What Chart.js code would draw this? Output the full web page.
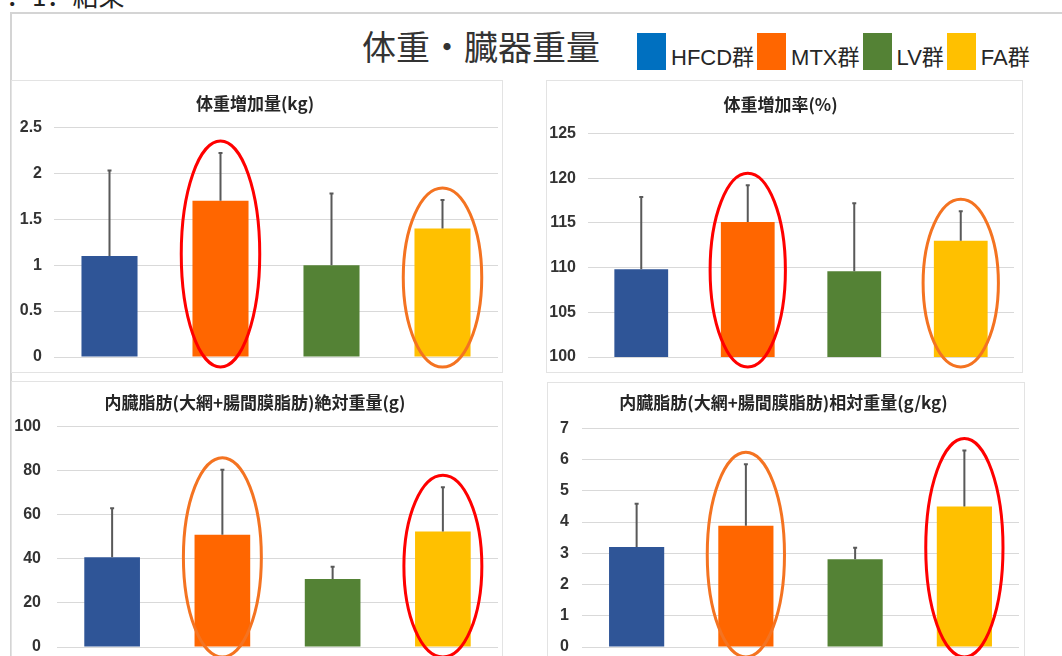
<!DOCTYPE html>
<html>
<head>
<meta charset="utf-8">
<script src="https://cdn.jsdelivr.net/npm/chart.js@4.4.1/dist/chart.umd.min.js"></script>
<style>
  body{margin:0;width:1062px;height:656px;overflow:hidden;background:#fff;position:relative;font-family:"Noto Sans CJK JP",sans-serif;color:#333}
  #head{position:absolute;left:6px;top:-20px;font-size:26px;line-height:30px;color:#222;white-space:nowrap}
  #frame{position:absolute;left:10px;top:12px;width:1100px;height:700px;border:2px solid #d4d4d4;box-sizing:border-box}
  #title{position:absolute;left:362px;top:22px;font-size:34px;line-height:48px;color:#333;white-space:nowrap}
  #legend{position:absolute;left:637px;top:33px;height:37px;display:flex;align-items:center;white-space:nowrap}
  .sw{width:29px;height:37px;flex:none}
  .lt{font-family:"Liberation Sans","Noto Sans CJK JP",sans-serif;font-size:22px;color:#262626;margin:6px 3px 0 5px}
  .panel{position:absolute;border:1px solid #e3e3e3;background:#fff}
  .panel canvas{display:block}
</style>
</head>
<body>
<div id="head">．1．結果</div>
<div id="frame"></div>
<div id="title">体重・臓器重量</div>
<div id="legend"></div>

<div class="panel" style="left:11px;top:80px;width:490px;height:291px"><canvas id="c1" width="490" height="291"></canvas></div>
<div class="panel" style="left:546px;top:80px;width:475px;height:291px"><canvas id="c2" width="475" height="291"></canvas></div>
<div class="panel" style="left:11px;top:381px;width:490px;height:300px"><canvas id="c3" width="490" height="300"></canvas></div>
<div class="panel" style="left:547px;top:382px;width:476px;height:300px"><canvas id="c4" width="476" height="300"></canvas></div>

<script>
// groups
const groups = ['HFCD群', 'MTX群', 'LV群', 'FA群']

// 体重増加量(kg)
const gainMean = [1.1, 1.7, 1.0, 1.4]
const gainSd = [0.93, 0.52, 0.78, 0.31]
const gainMark = ['', 'red', '', 'orange']

// 体重増加率(%)
const rateMean = [109.8, 115.1, 109.6, 113.0]
const rateSd = [8.1, 4.1, 7.6, 3.3]
const rateMark = ['', 'red', '', 'orange']

// 内臓脂肪 絶対重量(g)
const fatAbsMean = [40.7, 50.9, 30.8, 52.4]
const fatAbsSd = [22.2, 29.5, 5.6, 20.0]
const fatAbsMark = ['', 'orange', '', 'red']

// 内臓脂肪 相対重量(g/kg)
const fatRelMean = [3.2, 3.88, 2.81, 4.5]
const fatRelSd = [1.39, 1.97, 0.37, 1.79]
const fatRelMark = ['', 'orange', '', 'red']

const barColors = ['#2F5597', '#FF6600', '#548235', '#FFC000']
const legendColors = ['#0070C0', '#FF6600', '#548235', '#FFC000']
const ringColors = {red: '#FF0000', orange: '#F47321'}

// legend (shared by the four charts)
const legend = document.getElementById('legend')
groups.forEach((g, i) => {
  const sw = document.createElement('div')
  sw.className = 'sw'
  sw.style.background = legendColors[i]
  const t = document.createElement('span')
  t.className = 'lt'
  t.textContent = g
  legend.appendChild(sw)
  legend.appendChild(t)
})

// SD bars (upper only) + hand drawn style ellipses
const extras = {
  id: 'extras',
  afterDatasetsDraw(chart) {
    const ctx = chart.ctx
    const y = chart.scales.y
    const ds = chart.data.datasets[0]
    const meta = chart.getDatasetMeta(0)
    ctx.save()
    ctx.strokeStyle = '#595959'
    ctx.lineWidth = 2
    meta.data.forEach((bar, i) => {
      const yt = y.getPixelForValue(ds.data[i] + ds.sd[i])
      ctx.beginPath()
      ctx.moveTo(bar.x, bar.y)
      ctx.lineTo(bar.x, yt)
      ctx.moveTo(bar.x - 2, yt)
      ctx.lineTo(bar.x + 2, yt)
      ctx.stroke()
    })
    ctx.lineWidth = 3
    meta.data.forEach((bar, i) => {
      const m = ds.mark[i]
      if (!m) return
      const top = y.getPixelForValue(ds.data[i] + ds.sd[i]) - 12
      const bottom = chart.chartArea.bottom + 10
      ctx.strokeStyle = ringColors[m]
      ctx.beginPath()
      ctx.ellipse(bar.x, (top + bottom) / 2, bar.width * 0.7, (bottom - top) / 2, 0, 0, Math.PI * 2)
      ctx.stroke()
    })
    ctx.restore()
  }
}

function makeChart(id, title, mean, sd, mark, min, max, step, box) {
  new Chart(document.getElementById(id), {
    type: 'bar',
    data: {
      labels: groups,
      datasets: [{
        data: mean,
        sd: sd,
        mark: mark,
        backgroundColor: barColors,
        borderWidth: 0,
        barPercentage: 0.505,
        categoryPercentage: 1
      }]
    },
    options: {
      responsive: false,
      animation: false,
      layout: {padding: {left: 0, top: 0, right: box.right, bottom: box.bottom}},
      plugins: {
        legend: {display: false},
        tooltip: {enabled: false},
        title: {
          display: true,
          text: title,
          color: '#262626',
          font: {family: '"Noto Sans CJK JP", sans-serif', size: 17, weight: 'bold', lineHeight: 1.2},
          padding: {top: box.tTop, bottom: box.tBottom}
        }
      },
      scales: {
        x: {display: false},
        y: {
          min: min,
          max: max,
          afterFit(s) { s.width = box.axis },
          border: {display: false},
          grid: {color: '#D9D9D9', lineWidth: 1, drawTicks: true, tickLength: box.pad, tickColor: 'rgba(0,0,0,0)'},
          ticks: {
            stepSize: step,
            padding: 0,
            color: '#333',
            font: {family: '"Liberation Sans", Arial, sans-serif', size: 16, weight: 'bold'},
            callback: v => v
          }
        }
      }
    },
    plugins: [extras]
  })
}

makeChart('c1', '体重増加量(kg)', gainMean, gainSd, gainMark, 0, 2.5, 0.5,
  {axis: 42, pad: 12, right: 4, bottom: 15, tTop: 12, tBottom: 14})
makeChart('c2', '体重増加率(%)', rateMean, rateSd, rateMark, 100, 125, 5,
  {axis: 41, pad: 12, right: 8, bottom: 15, tTop: 13, tBottom: 19})
makeChart('c3', '内臓脂肪(大網+腸間膜脂肪)絶対重量(g)', fatAbsMean, fatAbsSd, fatAbsMark, 0, 100, 20,
  {axis: 45, pad: 16, right: 4, bottom: 35, tTop: 10, tBottom: 14})
makeChart('c4', '内臓脂肪(大網+腸間膜脂肪)相対重量(g/kg)', fatRelMean, fatRelSd, fatRelMark, 0, 7, 1,
  {axis: 34, pad: 13, right: 5, bottom: 36, tTop: 9, tBottom: 16})
</script>
</body>
</html>
